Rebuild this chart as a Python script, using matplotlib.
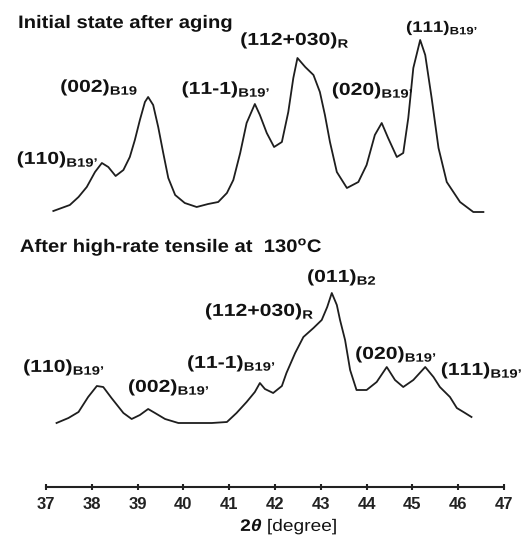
import matplotlib
matplotlib.use('Agg')
import matplotlib.pyplot as plt
from matplotlib import patheffects
from matplotlib.transforms import Affine2D

# 2theta positions (degree) and intensities (arbitrary units)
two_theta_aged = [37.16, 37.34, 37.52, 37.71, 37.89, 38.07, 38.22, 38.36, 38.52, 38.69,
                  38.83, 38.94, 39.05, 39.16, 39.23, 39.34, 39.45, 39.56, 39.67, 39.82,
                  40.03, 40.29, 40.54, 40.76, 40.95, 41.09, 41.24, 41.38, 41.56, 41.67,
                  41.82, 41.98, 42.15, 42.29, 42.40, 42.49, 42.66, 42.84, 42.98, 43.09,
                  43.20, 43.35, 43.57, 43.82, 44.00, 44.18, 44.33, 44.47, 44.66, 44.80,
                  44.91, 45.02, 45.17, 45.28, 45.42, 45.57, 45.75, 46.04, 46.33, 46.55]
intensity_aged = [276, 279, 282, 290, 300, 315, 324, 320, 311, 317,
                  330, 347, 367, 385, 390, 382, 360, 334, 309, 292,
                  284, 280, 283, 285, 294, 307, 334, 364, 383, 372,
                  354, 340, 345, 375, 409, 429, 420, 412, 395, 372,
                  345, 315, 299, 305, 322, 352, 364, 349, 330, 334,
                  369, 419, 447, 432, 389, 339, 305, 285, 275, 275]

two_theta_tensile = [37.23, 37.49, 37.71, 37.92, 38.11, 38.25, 38.43, 38.69, 38.87, 39.05,
                     39.23, 39.38, 39.60, 39.89, 40.25, 40.62, 40.95, 41.16, 41.38, 41.56,
                     41.67, 41.78, 41.96, 42.15, 42.25, 42.44, 42.62, 42.84, 43.02, 43.14,
                     43.24, 43.35, 43.42, 43.53, 43.64, 43.78, 44.00, 44.22, 44.44, 44.62,
                     44.80, 45.02, 45.28, 45.46, 45.60, 45.82, 45.97, 46.15, 46.29]
intensity_tensile = [64, 69, 75, 90, 101, 100, 89, 74, 68, 72,
                     78, 74, 68, 64, 64, 64, 65, 74, 85, 95,
                     104, 98, 94, 101, 114, 134, 150, 159, 167, 180,
                     194, 182, 167, 147, 117, 97, 97, 105, 120, 107,
                     100, 107, 120, 110, 100, 90, 79, 74, 70]

x_ticks = [37, 38, 39, 40, 41, 42, 43, 44, 45, 46, 47]

# peak labels: (text, 2theta at left edge, baseline intensity, fontsize)
labels_aged = [
    ('(110)$_\\mathrm{B19\u2019}$', 36.36, 323, 12.5),
    ('(002)$_\\mathrm{B19}$', 37.31, 395, 12.5),
    ('(11-1)$_\\mathrm{B19\u2019}$', 39.96, 393, 12.5),
    ('(112+030)$_\\mathrm{R}$', 41.24, 442, 12.5),
    ('(020)$_\\mathrm{B19\u2019}$', 43.24, 392, 12.5),
    ('(111)$_\\mathrm{B19\u2019}$', 44.86, 455, 11),
]
labels_tensile = [
    ('(110)$_\\mathrm{B19\u2019}$', 36.50, 115, 12.5),
    ('(002)$_\\mathrm{B19\u2019}$', 38.79, 95, 12.5),
    ('(11-1)$_\\mathrm{B19\u2019}$', 40.08, 119, 12.5),
    ('(112+030)$_\\mathrm{R}$', 40.47, 171, 12.5),
    ('(011)$_\\mathrm{B2}$', 42.70, 205, 12.5),
    ('(020)$_\\mathrm{B19\u2019}$', 43.75, 128, 12.5),
    ('(111)$_\\mathrm{B19\u2019}$', 45.62, 112, 12.5),
]


class Stretch(patheffects.AbstractPathEffect):
    # widen text horizontally from its left edge, the labels in the figure are wide
    def __init__(self, sx):
        super().__init__()
        self.sx = sx

    def draw_path(self, renderer, gc, tpath, affine, rgbFace=None):
        renderer.draw_path(gc, tpath, Affine2D().scale(self.sx, 1) + affine, rgbFace)


plt.rcParams['font.family'] = ['Liberation Sans', 'DejaVu Sans']
plt.rcParams['mathtext.fontset'] = 'custom'
plt.rcParams['mathtext.rm'] = 'Liberation Sans:bold'
plt.rcParams['mathtext.it'] = 'Liberation Sans:bold:italic'
plt.rcParams['mathtext.bf'] = 'Liberation Sans:bold'

fig = plt.figure(figsize=(5.27, 5.35), dpi=100)
ax = fig.add_axes([46 / 527, 48 / 535, 458 / 527, 487 / 535])

ax.plot(two_theta_aged, intensity_aged, color='#1e1e1e', lw=1.3)
ax.plot(two_theta_tensile, intensity_tensile, color='#1e1e1e', lw=1.3)

for txt, x, y, fs in labels_aged + labels_tensile:
    ax.text(x, y, txt, fontsize=fs, fontweight='bold', ha='left', va='baseline',
            color='#111111', path_effects=[Stretch(1.22)])

ax.text(36.39, 459, 'Initial state after aging', fontsize=13, fontweight='bold',
        ha='left', va='baseline', color='#111111', path_effects=[Stretch(1.12)])
ax.text(36.43, 235, 'After high-rate tensile at  130$^\\mathrm{o}$C', fontsize=13,
        fontweight='bold', ha='left', va='baseline', color='#111111',
        path_effects=[Stretch(1.12)])
ax.text(41.24, -44, '$2\\theta$ [degree]', fontsize=12, ha='left', va='baseline',
        color='#111111', clip_on=False, path_effects=[Stretch(1.15)])

ax.set_xlim(37, 47)
ax.set_ylim(0, 487)
ax.set_xticks(x_ticks)
ax.set_yticks([])
for side in ['top', 'right', 'left']:
    ax.spines[side].set_visible(False)
ax.spines['bottom'].set_linewidth(1.5)
ax.spines['bottom'].set_color('#222222')
ax.tick_params(axis='x', direction='inout', length=5, width=1.5, pad=5,
               labelsize=12, colors='#222222')
for lbl in ax.get_xticklabels():
    lbl.set_fontweight('bold')
ax.set_facecolor('none')

fig.savefig('out.png', dpi=100)
